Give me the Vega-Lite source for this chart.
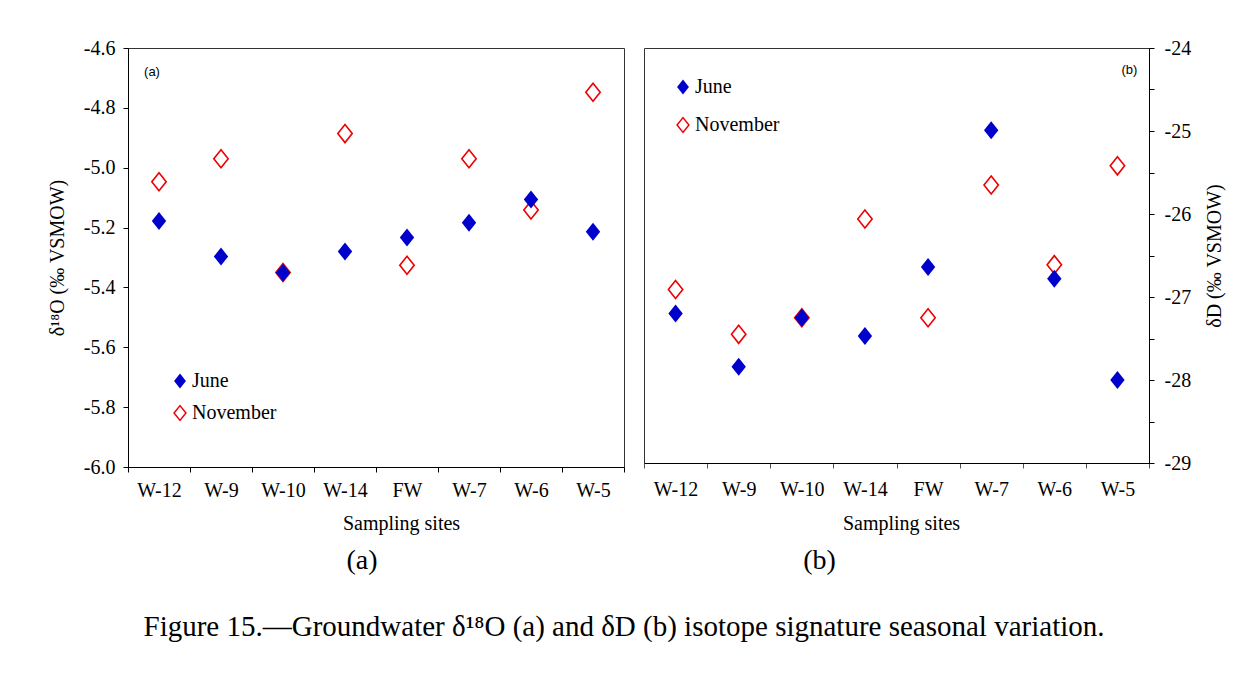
{
  "$schema": "https://vega.github.io/schema/vega-lite/v6.json",
  "padding": {"left": 46, "top": 37, "right": 5, "bottom": 5},
  "background": "white",
  "config": {
    "view": {"stroke": "#333333", "strokeWidth": 1},
    "font": "Liberation Serif"
  },
  "datasets": {
    "iso": [
      {"site": "W-12", "month": "November", "d18O": -5.047, "dD": -26.91},
      {"site": "W-9", "month": "November", "d18O": -4.970, "dD": -27.45},
      {"site": "W-10", "month": "November", "d18O": -5.350, "dD": -27.25},
      {"site": "W-14", "month": "November", "d18O": -4.886, "dD": -26.06},
      {"site": "FW", "month": "November", "d18O": -5.326, "dD": -27.25},
      {"site": "W-7", "month": "November", "d18O": -4.970, "dD": -25.65},
      {"site": "W-6", "month": "November", "d18O": -5.141, "dD": -26.61},
      {"site": "W-5", "month": "November", "d18O": -4.748, "dD": -25.42},
      {"site": "W-12", "month": "June", "d18O": -5.178, "dD": -27.20},
      {"site": "W-9", "month": "June", "d18O": -5.297, "dD": -27.84},
      {"site": "W-10", "month": "June", "d18O": -5.351, "dD": -27.25},
      {"site": "W-14", "month": "June", "d18O": -5.280, "dD": -27.47},
      {"site": "FW", "month": "June", "d18O": -5.233, "dD": -26.64},
      {"site": "W-7", "month": "June", "d18O": -5.184, "dD": -24.99},
      {"site": "W-6", "month": "June", "d18O": -5.106, "dD": -26.78},
      {"site": "W-5", "month": "June", "d18O": -5.214, "dD": -28.00}
    ]
  },
  "title": {
    "text": "Figure 15.—Groundwater δ¹⁸O (a) and δD (b) isotope signature seasonal variation.",
    "orient": "bottom",
    "anchor": "middle",
    "font": "Liberation Serif",
    "fontSize": 29,
    "fontWeight": "normal",
    "color": "black",
    "offset": 37,
    "dx": -12
  },
  "spacing": 18,
  "hconcat": [
    {
      "width": 496,
      "height": 419,
      "title": {"text": "(a)", "orient": "bottom", "anchor": "middle", "font": "Liberation Serif", "fontSize": 28, "fontWeight": "normal", "color": "black", "offset": 14, "dx": -14},
      "layer": [
        {
          "data": {"name": "iso"},
          "mark": {"type": "point", "shape": "M-0.8,0L0,-1L0.8,0L0,1Z", "size": 324, "filled": true, "opacity": 1, "strokeWidth": 1.6},
          "encoding": {
            "x": {
              "field": "site", "type": "nominal",
              "sort": ["W-12", "W-9", "W-10", "W-14", "FW", "W-7", "W-6", "W-5"],
              "scale": {"type": "band", "paddingInner": 0, "paddingOuter": 0},
              "axis": {
                "title": "Sampling sites", "tickBand": "extent", "tickSize": 5, "labelAngle": 0,
                "labelFont": "Liberation Serif", "labelFontSize": 20, "labelPadding": 8, "labelColor": "black",
                "titleFont": "Liberation Serif", "titleFontSize": 20, "titleFontWeight": "normal", "titleColor": "black",
                "titlePadding": 13, "titleX": 273, "domainColor": "black", "tickColor": "black", "grid": false
              }
            },
            "y": {
              "field": "d18O", "type": "quantitative",
              "scale": {"domain": [-6, -4.6], "nice": false, "zero": false},
              "axis": {
                "values": [-6, -5.9, -5.8, -5.7, -5.6, -5.5, -5.4, -5.3, -5.2, -5.1, -5, -4.9, -4.8, -4.7, -4.6],
                "labelExpr": "abs(round(datum.value*10)) % 2 == 0 ? replace(format(datum.value, '.1f'), '−', '-') : ''",
                "labelOverlap": false,
                "title": "δ¹⁸O (‰ VSMOW)",
                "titleFont": "Liberation Serif", "titleFontSize": 20, "titleFontWeight": "normal", "titleColor": "black",
                "labelFont": "Liberation Serif", "labelFontSize": 20, "labelColor": "black",
                "tickSize": 5, "labelPadding": 8, "titlePadding": 16, "grid": false,
                "domainColor": "black", "tickColor": "black"
              }
            },
            "fill": {
              "field": "month", "type": "nominal",
              "scale": {"domain": ["June", "November"], "range": ["#0000cc", "#ffffff"]},
              "legend": {"orient": "none", "legendX": 42, "legendY": 323, "title": null, "labelFont": "Liberation Serif", "labelFontSize": 20, "labelColor": "black", "symbolType": "M-0.8,0L0,-1L0.8,0L0,1Z", "symbolSize": 220, "symbolStrokeWidth": 1.5, "rowPadding": 10, "labelOffset": 2, "padding": 0, "symbolOpacity": 1}
            },
            "stroke": {
              "field": "month", "type": "nominal",
              "scale": {"domain": ["June", "November"], "range": ["transparent", "#ee0000"]},
              "legend": {"orient": "none", "legendX": 42, "legendY": 323, "title": null, "labelFont": "Liberation Serif", "labelFontSize": 20, "labelColor": "black", "symbolType": "M-0.8,0L0,-1L0.8,0L0,1Z", "symbolSize": 220, "symbolStrokeWidth": 1.5, "rowPadding": 10, "labelOffset": 2, "padding": 0, "symbolOpacity": 1}
            }
          }
        },
        {
          "data": {"values": [{"label": "(a)"}]},
          "mark": {"type": "text", "font": "Liberation Sans", "fontSize": 13, "dx": -7, "color": "black"},
          "encoding": {
            "x": {"datum": "W-12"},
            "y": {"datum": -4.68},
            "text": {"field": "label"}
          }
        }
      ]
    },
    {
      "width": 505,
      "height": 415,
      "title": {"text": "(b)", "orient": "bottom", "anchor": "middle", "font": "Liberation Serif", "fontSize": 28, "fontWeight": "normal", "color": "black", "offset": 14, "dx": -77},
      "layer": [
        {
          "data": {"name": "iso"},
          "mark": {"type": "point", "shape": "M-0.8,0L0,-1L0.8,0L0,1Z", "size": 324, "filled": true, "opacity": 1, "strokeWidth": 1.6},
          "encoding": {
            "x": {
              "field": "site", "type": "nominal",
              "sort": ["W-12", "W-9", "W-10", "W-14", "FW", "W-7", "W-6", "W-5"],
              "scale": {"type": "band", "paddingInner": 0, "paddingOuter": 0},
              "axis": {
                "title": "Sampling sites", "tickBand": "extent", "tickSize": 5, "labelAngle": 0,
                "labelFont": "Liberation Serif", "labelFontSize": 20, "labelPadding": 11, "labelColor": "black",
                "titleFont": "Liberation Serif", "titleFontSize": 20, "titleFontWeight": "normal", "titleColor": "black",
                "titlePadding": 14, "titleX": 257, "domainColor": "black", "tickColor": "#555555", "grid": false
              }
            },
            "y": {
              "field": "dD", "type": "quantitative",
              "scale": {"domain": [-29, -24], "nice": false, "zero": false},
              "axis": {
                "orient": "right",
                "values": [-29, -28.5, -28, -27.5, -27, -26.5, -26, -25.5, -25, -24.5, -24],
                "labelExpr": "abs(datum.value % 1) < 0.01 ? replace(format(datum.value, 'd'), '−', '-') : ''",
                "labelOverlap": false,
                "title": "δD (‰ VSMOW)",
                "titleAngle": 270,
                "titleBaseline": "top",
                "titleFont": "Liberation Serif", "titleFontSize": 20, "titleFontWeight": "normal", "titleColor": "black",
                "labelFont": "Liberation Serif", "labelFontSize": 20, "labelColor": "black",
                "tickSize": 5, "labelPadding": 10, "titlePadding": 14, "grid": false,
                "domainColor": "black", "tickColor": "black"
              }
            },
            "fill": {
              "field": "month", "type": "nominal",
              "scale": {"domain": ["June", "November"], "range": ["#0000cc", "#ffffff"]},
              "legend": {"orient": "none", "legendX": 29, "legendY": 29, "title": null, "labelFont": "Liberation Serif", "labelFontSize": 20, "labelColor": "black", "symbolType": "M-0.8,0L0,-1L0.8,0L0,1Z", "symbolSize": 220, "symbolStrokeWidth": 1.5, "rowPadding": 16, "labelOffset": 2, "padding": 0, "symbolOpacity": 1}
            },
            "stroke": {
              "field": "month", "type": "nominal",
              "scale": {"domain": ["June", "November"], "range": ["transparent", "#ee0000"]},
              "legend": {"orient": "none", "legendX": 29, "legendY": 29, "title": null, "labelFont": "Liberation Serif", "labelFontSize": 20, "labelColor": "black", "symbolType": "M-0.8,0L0,-1L0.8,0L0,1Z", "symbolSize": 220, "symbolStrokeWidth": 1.5, "rowPadding": 16, "labelOffset": 2, "padding": 0, "symbolOpacity": 1}
            }
          }
        },
        {
          "data": {"values": [{"label": "(b)"}]},
          "mark": {"type": "text", "font": "Liberation Sans", "fontSize": 13, "dx": 12, "color": "black"},
          "encoding": {
            "x": {"datum": "W-5"},
            "y": {"datum": -24.27},
            "text": {"field": "label"}
          }
        }
      ]
    }
  ],
  "resolve": {
    "scale": {"fill": "independent", "stroke": "independent"},
    "legend": {"fill": "independent", "stroke": "independent"}
  }
}
